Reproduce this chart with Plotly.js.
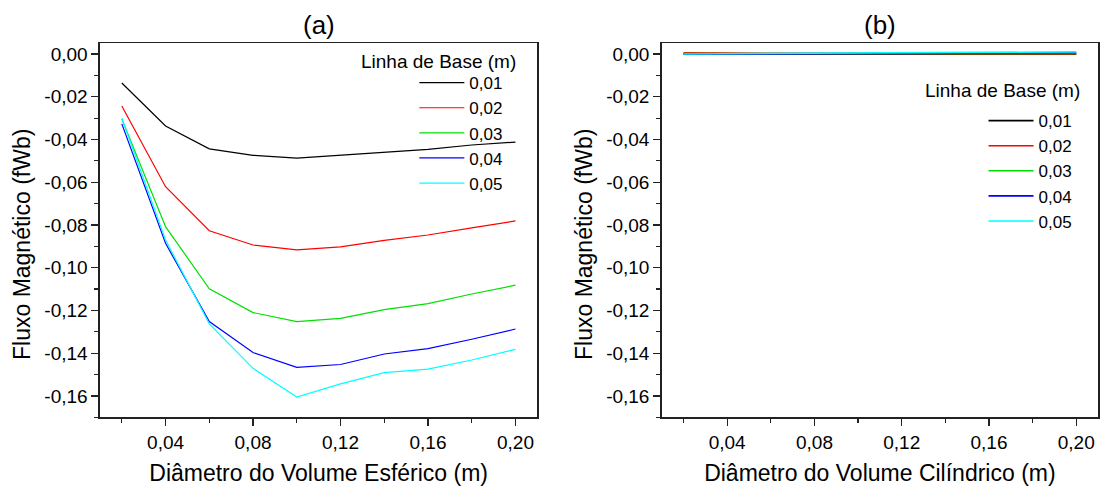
<!DOCTYPE html>
<html>
<head>
<meta charset="utf-8">
<script src="https://cdn.plot.ly/plotly-3.0.1.min.js"></script>
<style>html,body{margin:0;padding:0;background:#fff;}#chart{width:1102px;height:486px;}</style>
</head>
<body>
<div id="chart"></div>
<script>
// ---- data ----
const diameters = [0.02, 0.04, 0.06, 0.08, 0.10, 0.12, 0.14, 0.16, 0.18, 0.20];
const baselineNames = ["0,01", "0,02", "0,03", "0,04", "0,05"];
const colors = ["#000000", "#ff0000", "#00e000", "#0000ff", "#00ffff"];

// (a) spherical volume
const sph_001 = [-0.0136, -0.0337, -0.0444, -0.0474, -0.0487, -0.0474, -0.0458, -0.0446, -0.0426, -0.0412];
const sph_002 = [-0.0243, -0.0621, -0.0827, -0.0894, -0.0917, -0.0903, -0.0872, -0.0847, -0.0814, -0.0781];
const sph_003 = [-0.0304, -0.0808, -0.1099, -0.1210, -0.1252, -0.1237, -0.1196, -0.1168, -0.1123, -0.1082];
const sph_004 = [-0.0327, -0.0886, -0.1252, -0.1397, -0.1466, -0.1453, -0.1404, -0.1379, -0.1335, -0.1287];
const sph_005 = [-0.0301, -0.0870, -0.1263, -0.1471, -0.1605, -0.1544, -0.1491, -0.1475, -0.1432, -0.1382];

// (b) cylindrical volume
const cyl_001 = [0.0000, 0.0000, 0.0000, 0.0000, 0.0000, 0.0000, -0.0001, -0.0001, -0.0001, -0.0001];
const cyl_002 = [0.0005, 0.0005, 0.0004, 0.0003, 0.0002, 0.0001, 0.0001, 0.0000, 0.0000, 0.0000];
const cyl_003 = [0.0002, 0.0002, 0.0003, 0.0003, 0.0003, 0.0003, 0.0003, 0.0003, 0.0002, 0.0002];
const cyl_004 = [-0.0001, -0.0001, 0.0000, 0.0000, 0.0002, 0.0003, 0.0004, 0.0005, 0.0006, 0.0006];
const cyl_005 = [0.0000, 0.0001, 0.0002, 0.0003, 0.0005, 0.0007, 0.0008, 0.0009, 0.0010, 0.0010];

const yTickVals = [0, -0.02, -0.04, -0.06, -0.08, -0.10, -0.12, -0.14, -0.16];
const yTickText = ["0,00", "-0,02", "-0,04", "-0,06", "-0,08", "-0,10", "-0,12", "-0,14", "-0,16"];
const xTickVals = [0.04, 0.08, 0.12, 0.16, 0.20];
const xTickText = ["0,04", "0,08", "0,12", "0,16", "0,20"];

const titleA = "(a)";
const titleB = "(b)";
const xTitleA = "Diâmetro do Volume Esférico (m)";
const xTitleB = "Diâmetro do Volume Cilíndrico (m)";
const yTitle = "Fluxo Magnético (fWb)";
const legendTitle = "Linha de Base (m)";

// ---- traces ----
const sphSeries = [sph_001, sph_002, sph_003, sph_004, sph_005];
const cylSeries = [cyl_001, cyl_002, cyl_003, cyl_004, cyl_005];
const traces = [];
sphSeries.forEach((ys, i) => traces.push({
  x: diameters, y: ys, type: "scatter", mode: "lines", name: baselineNames[i],
  line: {color: colors[i], width: 1.2}, xaxis: "x", yaxis: "y", legend: "legend"
}));
cylSeries.forEach((ys, i) => traces.push({
  x: diameters, y: ys, type: "scatter", mode: "lines", name: baselineNames[i],
  line: {color: colors[i], width: 1.6}, xaxis: "x2", yaxis: "y2", legend: "legend2"
}));

const FONT = "Liberation Sans, Arial, sans-serif";
function xAxis(domain, title, anchor) {
  return {
    domain: domain, anchor: anchor, range: [0.01, 0.21],
    tickmode: "array", tickvals: xTickVals, ticktext: xTickText,
    ticks: "outside", ticklen: 7, tickwidth: 1.2, tickcolor: "#222",
    minor: {tickmode: "array", tickvals: [0.02, 0.06, 0.10, 0.14, 0.18], ticks: "outside", ticklen: 4, tickwidth: 1.2, tickcolor: "#222", showgrid: false},
    showline: true, linecolor: "#222", linewidth: 1.5, mirror: true,
    showgrid: false, zeroline: false,
    tickfont: {family: FONT, size: 19, color: "#000"},
    title: {text: title, font: {family: FONT, size: 23, color: "#000"}, standoff: 16},
    automargin: false
  };
}
function yAxis(domain, anchor) {
  return {
    domain: domain, anchor: anchor, range: [-0.17, 0.005],
    tickmode: "array", tickvals: yTickVals, ticktext: yTickText,
    ticks: "outside", ticklen: 7, tickwidth: 1.2, tickcolor: "#222",
    minor: {tickmode: "array", tickvals: [-0.01, -0.03, -0.05, -0.07, -0.09, -0.11, -0.13, -0.15, -0.17], ticks: "outside", ticklen: 4, tickwidth: 1.2, tickcolor: "#222", showgrid: false},
    showline: true, linecolor: "#222", linewidth: 1.5, mirror: true,
    showgrid: false, zeroline: false,
    tickfont: {family: FONT, size: 19, color: "#000"},
    automargin: false
  };
}

const yDom = [0.1414, 0.9109];
function ann(text, x, y, size, extra) {
  return Object.assign({text: text, xref: "paper", yref: "paper", x: x / 1102, y: 1 - y / 486,
    xanchor: "center", yanchor: "middle", showarrow: false, font: {family: FONT, size: size, color: "#000"}}, extra || {});
}
const layout = {
  width: 1102, height: 486,
  margin: {l: 0, r: 0, t: 0, b: 0},
  paper_bgcolor: "#fff", plot_bgcolor: "#fff",
  font: {family: FONT, color: "#000"},
  showlegend: true,
  xaxis: xAxis([0.0907, 0.4876], xTitleA, "y"),
  yaxis: yAxis(yDom, "x"),
  xaxis2: xAxis([0.6005, 0.9964], xTitleB, "y2"),
  yaxis2: yAxis(yDom, "x2"),
  legend: {x: 0.376, y: 0.866, xanchor: "left", yanchor: "top", bgcolor: "rgba(0,0,0,0)",
           font: {family: FONT, size: 17, color: "#000"}, tracegroupgap: 0, itemwidth: 45},
  legend2: {x: 0.8925, y: 0.788, xanchor: "left", yanchor: "top", bgcolor: "rgba(0,0,0,0)",
           font: {family: FONT, size: 17, color: "#000"}, tracegroupgap: 0, itemwidth: 45},
  annotations: [
    ann(titleA, 319, 25, 26),
    ann(titleB, 880, 25, 26),
    ann(yTitle, 22, 245, 23, {textangle: -90}),
    ann(yTitle, 584, 245, 23, {textangle: -90}),
    ann(legendTitle, 359, 62, 19, {xanchor: "left"}),
    ann(legendTitle, 923, 91, 19, {xanchor: "left"})
  ]
};

Plotly.newPlot("chart", traces, layout, {displayModeBar: false, staticPlot: true});
</script>
</body>
</html>
